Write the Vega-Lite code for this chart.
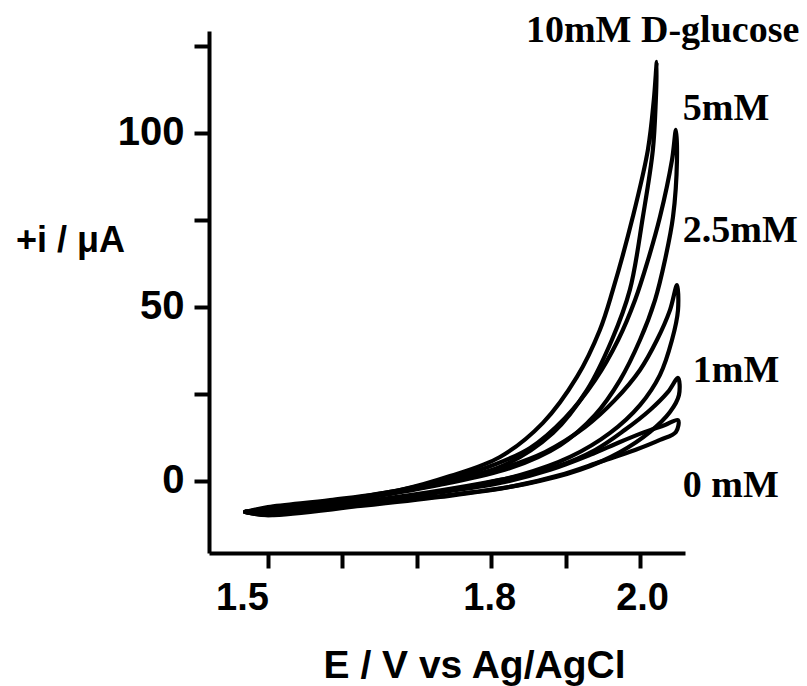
{
  "$schema": "https://vega.github.io/schema/vega-lite/v6.json",
  "autosize": {"type": "none"},
  "padding": {"left": 209, "top": 31, "right": 122, "bottom": 133},
  "width": 476,
  "height": 522,
  "background": "white",
  "config": {"view": {"stroke": null}},
  "datasets": {
    "cv": [
      {"conc":"10","k":0,"E":1.4695,"i":-8.9},{"conc":"10","k":1,"E":1.5000,"i":-7.5},{"conc":"10","k":2,"E":1.5836,"i":-5.5},{"conc":"10","k":3,"E":1.6776,"i":-2.6},{"conc":"10","k":4,"E":1.7447,"i":1.4},{"conc":"10","k":5,"E":1.8118,"i":6.9},{"conc":"10","k":6,"E":1.8695,"i":16.7},{"conc":"10","k":7,"E":1.9152,"i":29.9},{"conc":"10","k":8,"E":1.9460,"i":43.4},{"conc":"10","k":9,"E":1.9635,"i":54.9},{"conc":"10","k":10,"E":1.9903,"i":75.9},{"conc":"10","k":11,"E":2.0105,"i":95.1},{"conc":"10","k":12,"E":2.0185,"i":109.5},{"conc":"10","k":13,"E":2.0225,"i":120.4},{"conc":"10","k":14,"E":2.0212,"i":109.5},{"conc":"10","k":15,"E":2.0172,"i":95.1},{"conc":"10","k":16,"E":2.0038,"i":75.9},{"conc":"10","k":17,"E":1.9863,"i":54.9},{"conc":"10","k":18,"E":1.9621,"i":40.5},{"conc":"10","k":19,"E":1.9286,"i":26.1},{"conc":"10","k":20,"E":1.8830,"i":13.8},{"conc":"10","k":21,"E":1.8118,"i":4.0},{"conc":"10","k":22,"E":1.7219,"i":-0.6},{"conc":"10","k":23,"E":1.6105,"i":-5.5},{"conc":"10","k":24,"E":1.5004,"i":-9.2},{"conc":"10","k":25,"E":1.4695,"i":-8.9},
      {"conc":"5","k":0,"E":1.4695,"i":-8.9},{"conc":"5","k":1,"E":1.5004,"i":-7.8},{"conc":"5","k":2,"E":1.5971,"i":-5.5},{"conc":"5","k":3,"E":1.7046,"i":-1.4},{"conc":"5","k":4,"E":1.7852,"i":3.2},{"conc":"5","k":5,"E":1.8523,"i":9.5},{"conc":"5","k":6,"E":1.8993,"i":18.1},{"conc":"5","k":7,"E":1.9396,"i":29.0},{"conc":"5","k":8,"E":1.9705,"i":40.5},{"conc":"5","k":9,"E":1.9933,"i":52.0},{"conc":"5","k":10,"E":2.0107,"i":63.5},{"conc":"5","k":11,"E":2.0268,"i":75.9},{"conc":"5","k":12,"E":2.0429,"i":92.2},{"conc":"5","k":13,"E":2.0482,"i":100.9},{"conc":"5","k":14,"E":2.0496,"i":92.2},{"conc":"5","k":15,"E":2.0443,"i":75.9},{"conc":"5","k":16,"E":2.0335,"i":63.5},{"conc":"5","k":17,"E":2.0201,"i":52.0},{"conc":"5","k":18,"E":1.9999,"i":40.5},{"conc":"5","k":19,"E":1.9731,"i":29.0},{"conc":"5","k":20,"E":1.9396,"i":19.0},{"conc":"5","k":21,"E":1.8926,"i":10.3},{"conc":"5","k":22,"E":1.8255,"i":3.7},{"conc":"5","k":23,"E":1.7315,"i":-1.1},{"conc":"5","k":24,"E":1.6105,"i":-5.7},{"conc":"5","k":25,"E":1.5004,"i":-9.5},{"conc":"5","k":26,"E":1.4695,"i":-8.9},
      {"conc":"2.5","k":0,"E":1.4695,"i":-8.9},{"conc":"2.5","k":1,"E":1.5004,"i":-8.0},{"conc":"2.5","k":2,"E":1.5971,"i":-5.7},{"conc":"2.5","k":3,"E":1.7046,"i":-2.0},{"conc":"2.5","k":4,"E":1.7986,"i":2.6},{"conc":"2.5","k":5,"E":1.8724,"i":8.3},{"conc":"2.5","k":6,"E":1.9261,"i":15.5},{"conc":"2.5","k":7,"E":1.9664,"i":23.3},{"conc":"2.5","k":8,"E":1.9999,"i":31.9},{"conc":"2.5","k":9,"E":2.0227,"i":40.5},{"conc":"2.5","k":10,"E":2.0402,"i":49.1},{"conc":"2.5","k":11,"E":2.0496,"i":56.3},{"conc":"2.5","k":12,"E":2.0510,"i":49.1},{"conc":"2.5","k":13,"E":2.0429,"i":40.5},{"conc":"2.5","k":14,"E":2.0268,"i":30.5},{"conc":"2.5","k":15,"E":1.9999,"i":21.8},{"conc":"2.5","k":16,"E":1.9597,"i":13.8},{"conc":"2.5","k":17,"E":1.9060,"i":6.9},{"conc":"2.5","k":18,"E":1.8389,"i":1.7},{"conc":"2.5","k":19,"E":1.7449,"i":-2.6},{"conc":"2.5","k":20,"E":1.6240,"i":-6.3},{"conc":"2.5","k":21,"E":1.5004,"i":-9.8},{"conc":"2.5","k":22,"E":1.4695,"i":-8.9},
      {"conc":"1","k":0,"E":1.4695,"i":-8.9},{"conc":"1","k":1,"E":1.5004,"i":-8.3},{"conc":"1","k":2,"E":1.6105,"i":-6.3},{"conc":"1","k":3,"E":1.7180,"i":-3.2},{"conc":"1","k":4,"E":1.8118,"i":0.3},{"conc":"1","k":5,"E":1.8859,"i":4.0},{"conc":"1","k":6,"E":1.9396,"i":8.9},{"conc":"1","k":7,"E":1.9798,"i":14.7},{"conc":"1","k":8,"E":2.0134,"i":20.4},{"conc":"1","k":9,"E":2.0376,"i":25.6},{"conc":"1","k":10,"E":2.0510,"i":29.6},{"conc":"1","k":11,"E":2.0523,"i":24.7},{"conc":"1","k":12,"E":2.0402,"i":19.8},{"conc":"1","k":13,"E":2.0134,"i":14.1},{"conc":"1","k":14,"E":1.9731,"i":8.3},{"conc":"1","k":15,"E":1.9194,"i":3.2},{"conc":"1","k":16,"E":1.8456,"i":-0.9},{"conc":"1","k":17,"E":1.7449,"i":-4.0},{"conc":"1","k":18,"E":1.6240,"i":-6.9},{"conc":"1","k":19,"E":1.5004,"i":-9.5},{"conc":"1","k":20,"E":1.4695,"i":-8.9},
      {"conc":"0","k":0,"E":1.4695,"i":-8.9},{"conc":"0","k":1,"E":1.5004,"i":-8.6},{"conc":"0","k":2,"E":1.6105,"i":-6.6},{"conc":"0","k":3,"E":1.7180,"i":-3.7},{"conc":"0","k":4,"E":1.8118,"i":-0.6},{"conc":"0","k":5,"E":1.8792,"i":3.2},{"conc":"0","k":6,"E":1.9329,"i":7.5},{"conc":"0","k":7,"E":1.9731,"i":11.2},{"conc":"0","k":8,"E":2.0067,"i":14.1},{"conc":"0","k":9,"E":2.0335,"i":16.1},{"conc":"0","k":10,"E":2.0510,"i":17.5},{"conc":"0","k":11,"E":2.0482,"i":14.1},{"conc":"0","k":12,"E":2.0268,"i":11.8},{"conc":"0","k":13,"E":1.9933,"i":8.9},{"conc":"0","k":14,"E":1.9463,"i":5.5},{"conc":"0","k":15,"E":1.8926,"i":1.7},{"conc":"0","k":16,"E":1.8255,"i":-1.7},{"conc":"0","k":17,"E":1.7315,"i":-4.6},{"conc":"0","k":18,"E":1.6240,"i":-7.2},{"conc":"0","k":19,"E":1.5004,"i":-9.8},{"conc":"0","k":20,"E":1.4695,"i":-8.9}
    ],
    "labels": [
      {"label":"10mM D-glucose","E":1.8467,"i":126.2},
      {"label":"5mM","E":2.0575,"i":103.7},
      {"label":"2.5mM","E":2.0575,"i":68.7},
      {"label":"1mM","E":2.0709,"i":28.4},
      {"label":"0 mM","E":2.0575,"i":-4.6}
    ]
  },
  "layer": [
    {
      "data": {"name": "cv"},
      "mark": {"type": "line", "color": "black", "strokeWidth": 4.2, "interpolate": "catmull-rom", "strokeCap": "round", "strokeJoin": "round"},
      "encoding": {
        "x": {
          "field": "E", "type": "quantitative",
          "scale": {"domain": [1.4208, 2.0604], "nice": false, "zero": false},
          "axis": {
            "title": "E / V vs Ag/AgCl",
            "values": [1.5, 1.6, 1.7, 1.8, 1.9, 2.0],
            "labelExpr": "datum.value == 1.5 || datum.value == 1.8 || datum.value == 2.0 ? format(datum.value, '.1f') : ''",
            "labelOffset": {"condition": [{"test": "datum.value == 1.5", "value": -26}, {"test": "datum.value == 1.8", "value": -2}], "value": 2},
            "grid": false,
            "domainColor": "black", "domainWidth": 4,
            "tickColor": "black", "tickWidth": 4, "tickSize": 15,
            "labelFont": "Liberation Sans", "labelFontWeight": "bold", "labelFontSize": 38, "labelColor": "black",
            "labelPadding": 11, "labelFlush": false, "labelOverlap": false,
            "titleFont": "Liberation Sans", "titleFontWeight": "bold", "titleFontSize": 39, "titleColor": "black",
            "titleX": 265, "titleY": 124, "titleBaseline": "alphabetic", "titleAnchor": null, "titleAlign": "center"
          }
        },
        "y": {
          "field": "i", "type": "quantitative",
          "scale": {"domain": [-20.7, 129.3], "nice": false, "zero": false},
          "axis": {
            "title": "+i / μA",
            "values": [0, 25, 50, 75, 100, 125],
            "labelExpr": "datum.value % 50 == 0 && datum.value < 125 ? datum.value : ''",
            "grid": false,
            "domainColor": "black", "domainWidth": 4,
            "tickColor": "black", "tickWidth": 4, "tickSize": 15,
            "labelFont": "Liberation Sans", "labelFontWeight": "bold", "labelFontSize": 40, "labelColor": "black",
            "labelPadding": 10, "labelOverlap": false,
            "titleFont": "Liberation Sans", "titleFontWeight": "bold", "titleFontSize": 36, "titleColor": "black",
            "titleAngle": 0, "titleX": -139, "titleY": 209, "titleAlign": "center", "titleBaseline": "middle"
          }
        },
        "detail": {"field": "conc", "type": "nominal"},
        "order": {"field": "k", "type": "quantitative"}
      }
    },
    {
      "data": {"name": "labels"},
      "mark": {"type": "text", "font": "Liberation Serif", "fontWeight": "bold", "fontSize": 38, "color": "black", "align": "left", "baseline": "alphabetic"},
      "encoding": {
        "x": {"field": "E", "type": "quantitative"},
        "y": {"field": "i", "type": "quantitative"},
        "text": {"field": "label", "type": "nominal"}
      }
    }
  ]
}
